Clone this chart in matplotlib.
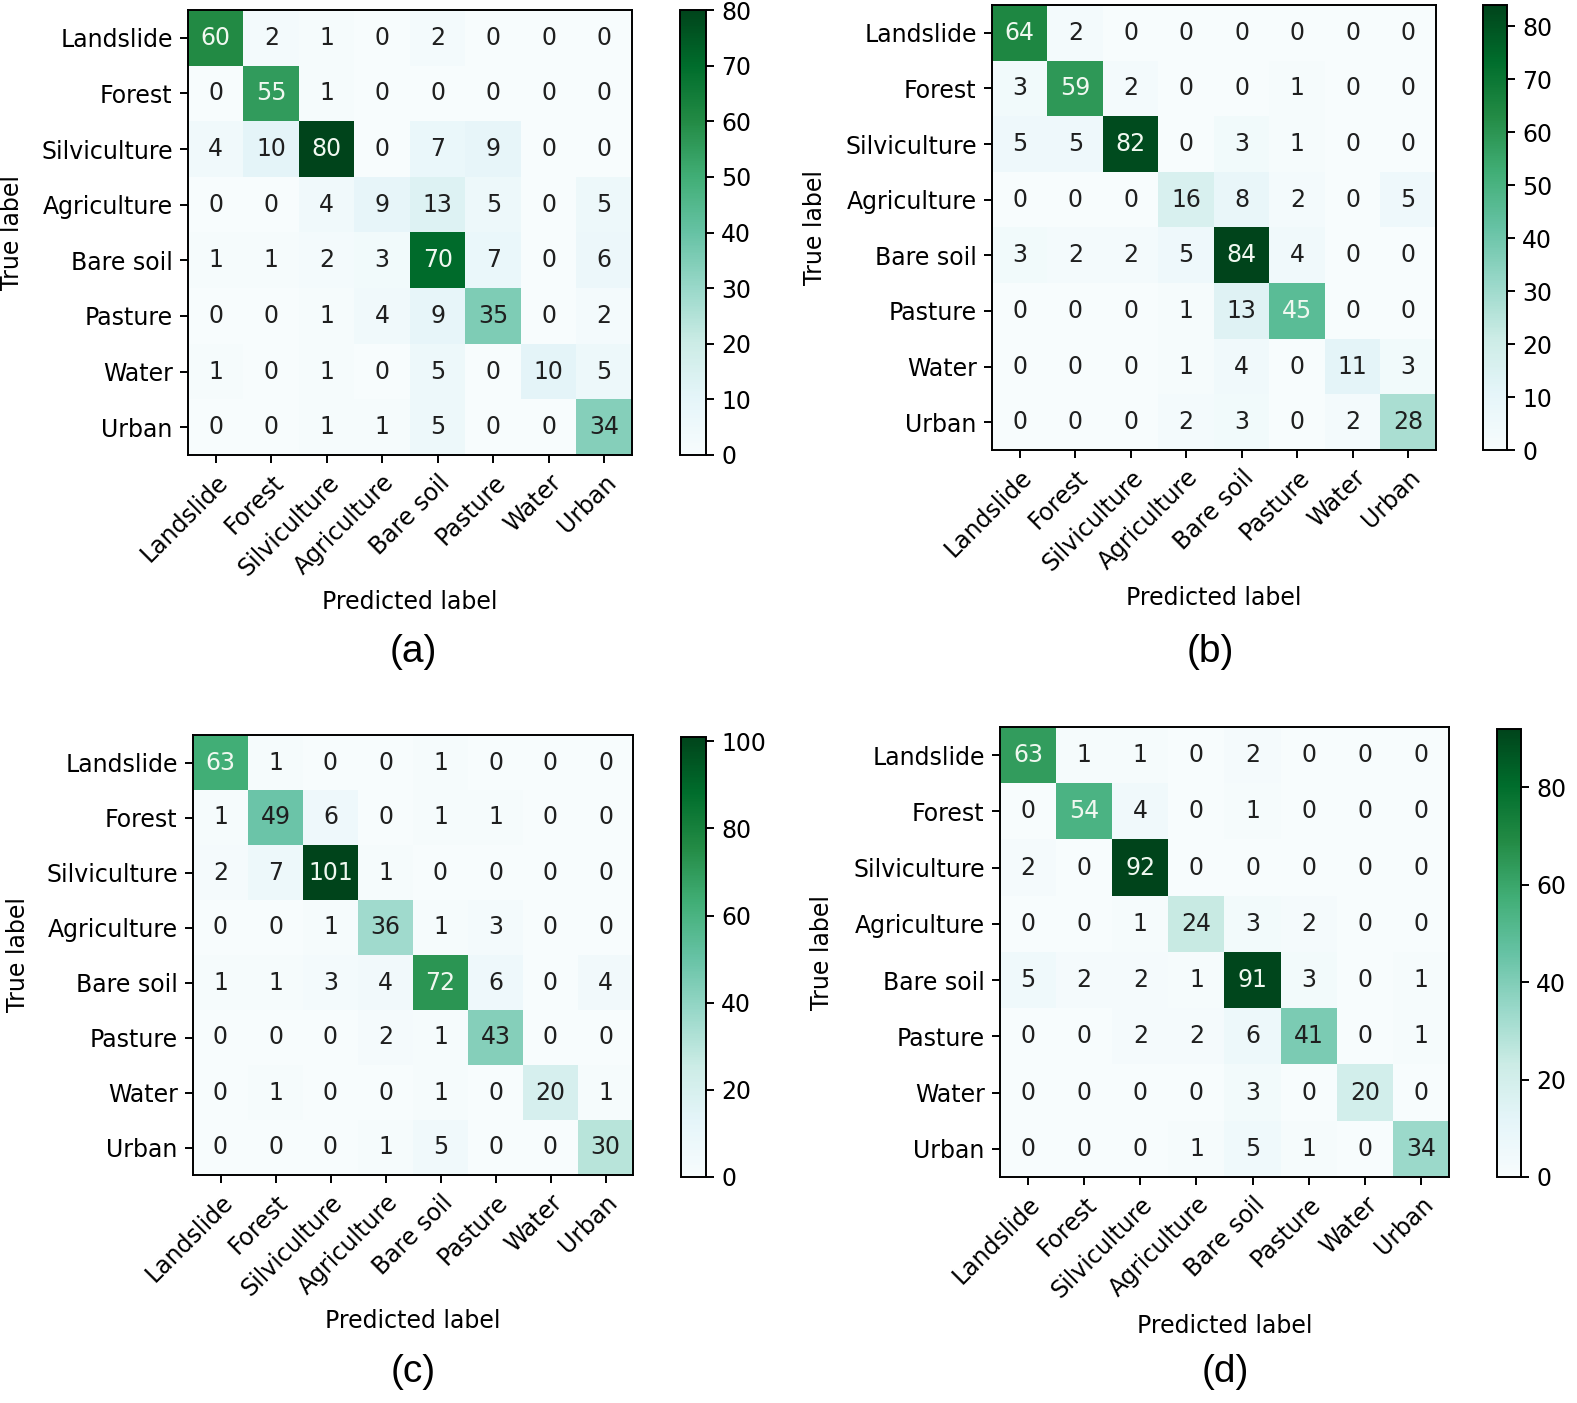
import matplotlib
matplotlib.use("Agg")
import matplotlib.pyplot as plt
import numpy as np

classes = ["Landslide", "Forest", "Silviculture", "Agriculture",
           "Bare soil", "Pasture", "Water", "Urban"]

cm_a = [[60, 2, 1, 0, 2, 0, 0, 0],
        [0, 55, 1, 0, 0, 0, 0, 0],
        [4, 10, 80, 0, 7, 9, 0, 0],
        [0, 0, 4, 9, 13, 5, 0, 5],
        [1, 1, 2, 3, 70, 7, 0, 6],
        [0, 0, 1, 4, 9, 35, 0, 2],
        [1, 0, 1, 0, 5, 0, 10, 5],
        [0, 0, 1, 1, 5, 0, 0, 34]]

cm_b = [[64, 2, 0, 0, 0, 0, 0, 0],
        [3, 59, 2, 0, 0, 1, 0, 0],
        [5, 5, 82, 0, 3, 1, 0, 0],
        [0, 0, 0, 16, 8, 2, 0, 5],
        [3, 2, 2, 5, 84, 4, 0, 0],
        [0, 0, 0, 1, 13, 45, 0, 0],
        [0, 0, 0, 1, 4, 0, 11, 3],
        [0, 0, 0, 2, 3, 0, 2, 28]]

cm_c = [[63, 1, 0, 0, 1, 0, 0, 0],
        [1, 49, 6, 0, 1, 1, 0, 0],
        [2, 7, 101, 1, 0, 0, 0, 0],
        [0, 0, 1, 36, 1, 3, 0, 0],
        [1, 1, 3, 4, 72, 6, 0, 4],
        [0, 0, 0, 2, 1, 43, 0, 0],
        [0, 1, 0, 0, 1, 0, 20, 1],
        [0, 0, 0, 1, 5, 0, 0, 30]]

cm_d = [[63, 1, 1, 0, 2, 0, 0, 0],
        [0, 54, 4, 0, 1, 0, 0, 0],
        [2, 0, 92, 0, 0, 0, 0, 0],
        [0, 0, 1, 24, 3, 2, 0, 0],
        [5, 2, 2, 1, 91, 3, 0, 1],
        [0, 0, 2, 2, 6, 41, 0, 1],
        [0, 0, 0, 0, 3, 0, 20, 0],
        [0, 0, 0, 1, 5, 1, 0, 34]]

captions = ["(a)", "(b)", "(c)", "(d)"]

W, H = 1577, 1403
fig = plt.figure(figsize=(W / 100, H / 100), dpi=100)

FS = 17
LW = 1.4

def px(x0, y0, x1, y1):
    # pixel box (top-left origin) -> figure fraction rect
    return [x0 / W, 1 - y1 / H, (x1 - x0) / W, (y1 - y0) / H]

# heatmap box, colorbar box, caption position, ylabel x, xlabel y
panels = [
    (cm_a, (188, 10, 632, 455), (680, 10, 706, 455), (413, 652), 12, 602),
    (cm_b, (992, 5, 1436, 450), (1483, 5, 1507, 450), (1210, 652), 815, 598),
    (cm_c, (193, 735, 633, 1175), (681, 737, 706, 1177), (413, 1372), 18, 1321),
    (cm_d, (1000, 727, 1449, 1177), (1497, 729, 1521, 1177), (1225, 1372), 822, 1326),
]

cmap = plt.get_cmap("BuGn")

for (cm, hb, cb, cap, ylx, xly), caption in zip(panels, captions):
    cm = np.array(cm)
    ax = fig.add_axes(px(*hb))
    im = ax.imshow(cm, cmap=cmap, interpolation="nearest", aspect="auto")
    thresh = (cm.max() + cm.min()) / 2.0
    for i in range(cm.shape[0]):
        for j in range(cm.shape[1]):
            col = "#f0f8f0" if cm[i, j] >= thresh else "#1f1f1f"
            ax.text(j, i, str(cm[i, j]), ha="center", va="center",
                    color=col, fontsize=FS)
    ax.set_xticks(range(len(classes)))
    ax.set_yticks(range(len(classes)))
    ax.set_xticklabels(classes, rotation=45, ha="right",
                       rotation_mode="anchor", fontsize=FS)
    ax.set_yticklabels(classes, fontsize=FS)
    ax.tick_params(length=6, width=LW, pad=5)
    for s in ax.spines.values():
        s.set_linewidth(LW)

    fig.text((hb[0] + hb[2]) / 2 / W, 1 - xly / H, "Predicted label",
             ha="center", va="center", fontsize=FS)
    fig.text(ylx / W, 1 - (hb[1] + hb[3]) / 2 / H, "True label",
             ha="center", va="center", rotation=90, fontsize=FS)

    cax = fig.add_axes(px(*cb))
    cbar = fig.colorbar(im, cax=cax)
    cbar.ax.tick_params(labelsize=FS, length=6, width=LW, pad=5)
    cbar.outline.set_linewidth(LW)

    fig.text(cap[0] / W, 1 - cap[1] / H, caption, ha="center", va="center",
             fontsize=28, family="Liberation Sans")

fig.savefig("out.png", dpi=100)
